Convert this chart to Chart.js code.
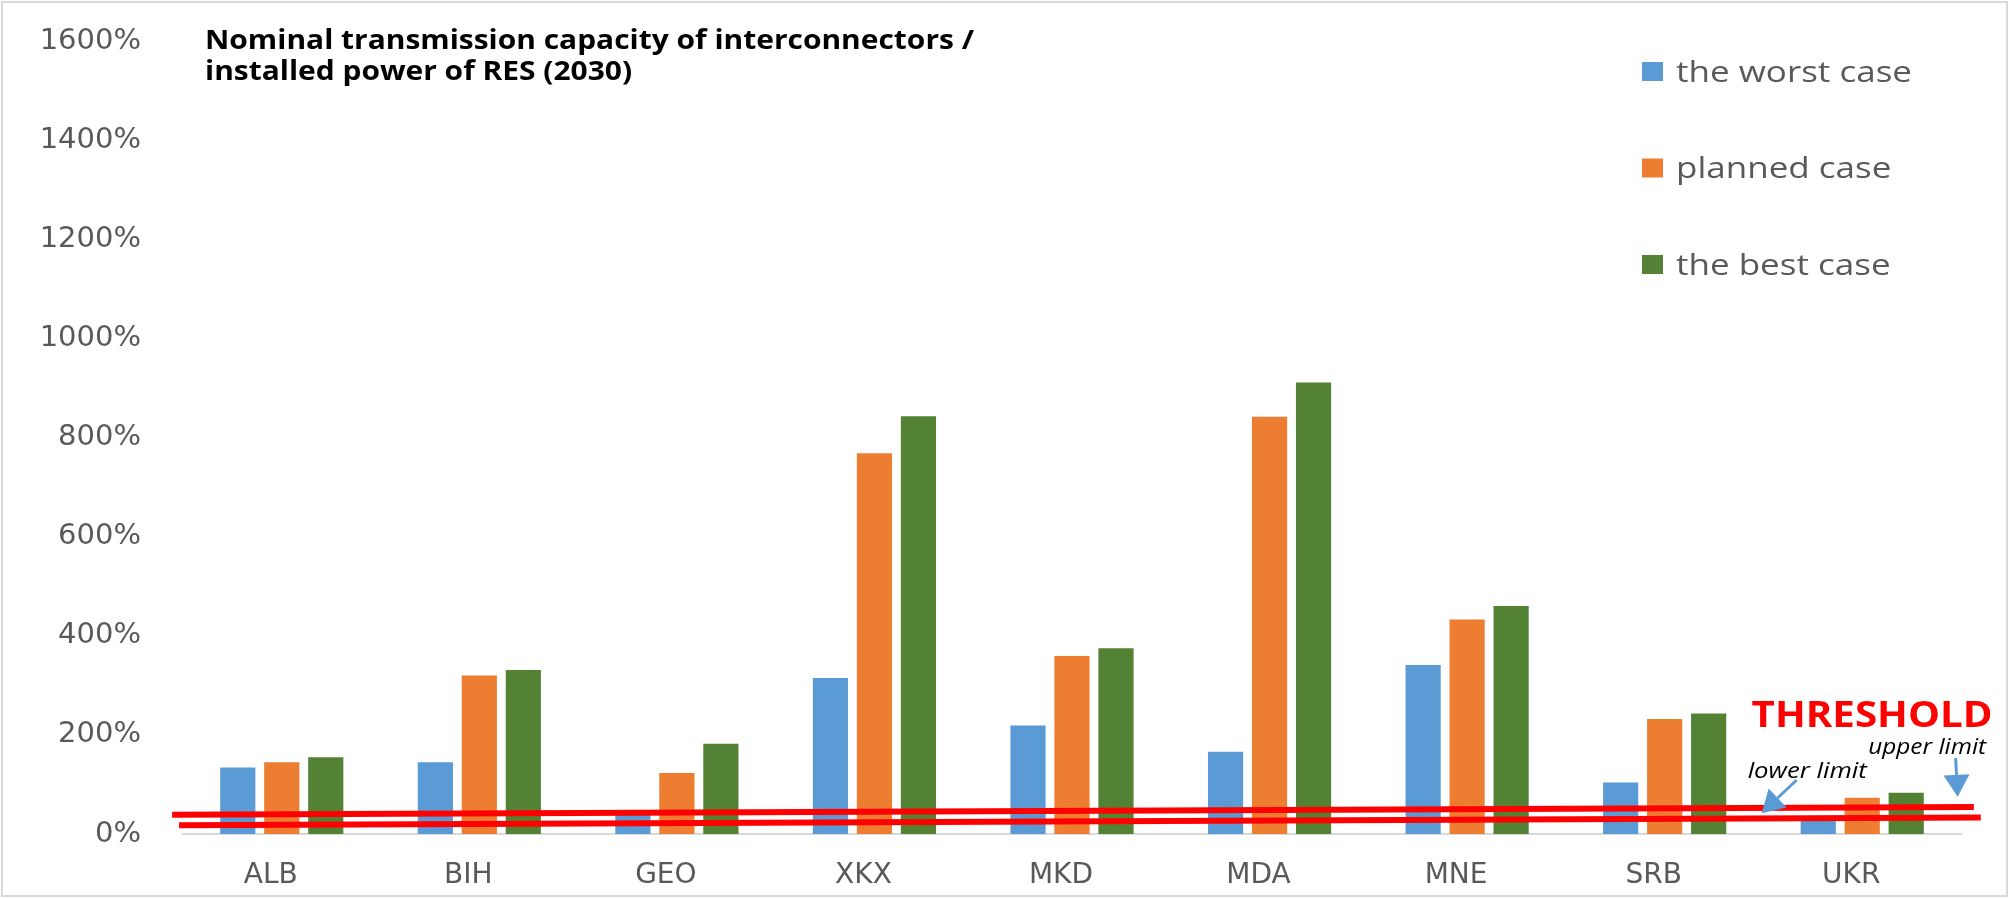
<!DOCTYPE html>
<html>
<head>
<meta charset="utf-8">
<script src="https://cdn.jsdelivr.net/npm/chart.js@4.4.1/dist/chart.umd.min.js"></script>
<style>
html,body{margin:0;padding:0;background:#fff;overflow:hidden}
#wrap{width:2009px;height:898px;position:relative}
canvas{display:block}
</style>
</head>
<body>
<div id="wrap"><canvas id="c" width="2009" height="898"></canvas></div>
<script>
// ---- data ----
const categories = ['ALB','BIH','GEO','XKX','MKD','MDA','MNE','SRB','UKR'];
const seriesNames = ['the worst case','planned case','the best case'];
const worstCase   = [134, 145,  48, 315, 219, 166, 341, 104,  34];
const plannedCase = [145, 320, 123, 768, 359, 842, 433, 232,  73];
const bestCase    = [155, 331, 182, 843, 375, 911, 460, 243,  83];
const yTickValues = [0, 200, 400, 600, 800, 1000, 1200, 1400, 1600];
// threshold lines (x in category units, y in %)
const upperLimit = [{x:-0.555, y:39}, {x:8.565, y:54.5}];
const lowerLimit = [{x:-0.52,  y:17.5}, {x:8.6,  y:33.5}];
const titleLines = ['Nominal transmission capacity of interconnectors /', 'installed power of RES (2030)'];
const thresholdLabel = 'THRESHOLD';
const upperLabel = 'upper limit';
const lowerLabel = 'lower limit';

const colors = ['#5B9BD5', '#ED7D31', '#548235'];

function stretchText(ctx, text, x, y, sx) {
  ctx.save();
  ctx.translate(x, y);
  ctx.scale(sx, 1);
  ctx.fillText(text, 0, 0);
  ctx.restore();
}
function fitScale(ctx, text, target) {
  return target / ctx.measureText(text).width;
}
function arrow(ctx, x1, y1, x2, y2, headLen, headW, shaftW, color) {
  const ang = Math.atan2(y2 - y1, x2 - x1);
  const bx = x2 - Math.cos(ang) * headLen, by = y2 - Math.sin(ang) * headLen;
  ctx.save();
  ctx.strokeStyle = color; ctx.fillStyle = color; ctx.lineWidth = shaftW;
  ctx.beginPath(); ctx.moveTo(x1, y1); ctx.lineTo(bx, by); ctx.stroke();
  const px = -Math.sin(ang) * headW / 2, py = Math.cos(ang) * headW / 2;
  ctx.beginPath(); ctx.moveTo(x2, y2); ctx.lineTo(bx + px, by + py); ctx.lineTo(bx - px, by - py); ctx.closePath(); ctx.fill();
  ctx.restore();
}

const decor = {
  id: 'decor',
  beforeDraw(chart) {
    const ctx = chart.ctx;
    ctx.save();
    ctx.fillStyle = '#fff';
    ctx.fillRect(0, 0, chart.width, chart.height);
    ctx.restore();
  },
  afterDatasetsDraw(chart) {
    // threshold lines through the chart's scales
    const ctx = chart.ctx;
    const X = v => chart.scales.x2.getPixelForValue(v);
    const Y = v => chart.scales.y.getPixelForValue(v);
    ctx.save();
    ctx.strokeStyle = '#FF0000';
    ctx.lineWidth = 6;
    ctx.lineCap = 'butt';
    [upperLimit, lowerLimit].forEach(pts => {
      ctx.beginPath();
      pts.forEach((p, i) => i ? ctx.lineTo(X(p.x), Y(p.y)) : ctx.moveTo(X(p.x), Y(p.y)));
      ctx.stroke();
    });
    ctx.restore();
  },
  afterDraw(chart) {
    const ctx = chart.ctx;
    const X = v => chart.scales.x2.getPixelForValue(v);
    const Y = v => chart.scales.y.getPixelForValue(v);
    ctx.save();
    // frame
    ctx.strokeStyle = '#d9d9d9'; ctx.lineWidth = 2;
    ctx.strokeRect(2, 2, chart.width - 4, chart.height - 4);
    // title
    ctx.fillStyle = '#000';
    ctx.textBaseline = 'alphabetic';
    ctx.font = 'bold 26px "Open Sans"';
    const ts = fitScale(ctx, titleLines[0], 769);
    stretchText(ctx, titleLines[0], 205, 49, ts);
    stretchText(ctx, titleLines[1], 205, 80, ts);
    // legend
    ctx.font = '29px "Open Sans"';
    const ls = fitScale(ctx, seriesNames[0], 236);
    const rowY = [71.5, 168, 264.5];
    seriesNames.forEach((n, i) => {
      ctx.fillStyle = colors[i];
      ctx.fillRect(1642, rowY[i] - 9.5, 21, 19);
      ctx.fillStyle = '#595959';
      stretchText(ctx, n, 1676, rowY[i] + 10, ls);
    });
    // threshold label
    ctx.fillStyle = '#FF0000';
    ctx.font = 'bold 35px "Open Sans"';
    stretchText(ctx, thresholdLabel, X(7.44), Y(216), fitScale(ctx, thresholdLabel, 241));
    ctx.fillStyle = '#000';
    ctx.font = 'italic 21px "Open Sans"';
    stretchText(ctx, upperLabel, X(8.03), Y(161), fitScale(ctx, upperLabel, 118));
    stretchText(ctx, lowerLabel, X(7.42), Y(113), fitScale(ctx, lowerLabel, 119));
    // arrows
    arrow(ctx, X(7.668), Y(109), X(7.491), Y(42), 22, 26, 3, '#5B9BD5');
    arrow(ctx, X(8.473), Y(153), X(8.483), Y(75), 22, 26, 3, '#5B9BD5');
    ctx.restore();
  }
};

const barSets = [worstCase, plannedCase, bestCase].map((d, i) => ({
  label: seriesNames[i], data: d, backgroundColor: colors[i],
  borderWidth: 0, xAxisID: 'x', yAxisID: 'y'
}));

new Chart(document.getElementById('c'), {
  type: 'bar',
  data: { labels: categories, datasets: barSets },
  options: {
    responsive: false,
    animation: false,
    devicePixelRatio: 1,
    layout: { padding: { left: 0, right: 48, top: 41, bottom: 0 } },
    plugins: { legend: { display: false }, tooltip: { enabled: false }, title: { display: false } },
    datasets: { bar: { barPercentage: 0.8, categoryPercentage: 0.668 } },
    scales: {
      x: {
        type: 'category', offset: true,
        grid: { display: false, drawTicks: false },
        border: { display: true, color: '#d9d9d9', width: 2 },
        ticks: { color: '#595959', font: { family: 'DejaVu Sans', size: 28 }, padding: 25, maxRotation: 0, labelOffset: -11 },
        afterFit(s) { s.height = 64; s.paddingLeft = 0; s.paddingRight = 0; }
      },
      x2: { type: 'linear', display: false, min: -0.5, max: 8.5, offset: false, grid: { offset: false } },
      y: {
        type: 'linear', min: 0, max: 1600,
        grid: { display: false, drawTicks: false },
        border: { display: false },
        afterBuildTicks(s) { s.ticks = yTickValues.map(v => ({ value: v })); },
        ticks: { color: '#595959', font: { family: 'DejaVu Sans', size: 29 }, padding: 42, callback: v => v + '%' },
        afterFit(s) { s.width = 183; s.paddingTop = 0; s.paddingBottom = 0; }
      }
    }
  },
  plugins: [decor]
});
</script>
</body>
</html>
